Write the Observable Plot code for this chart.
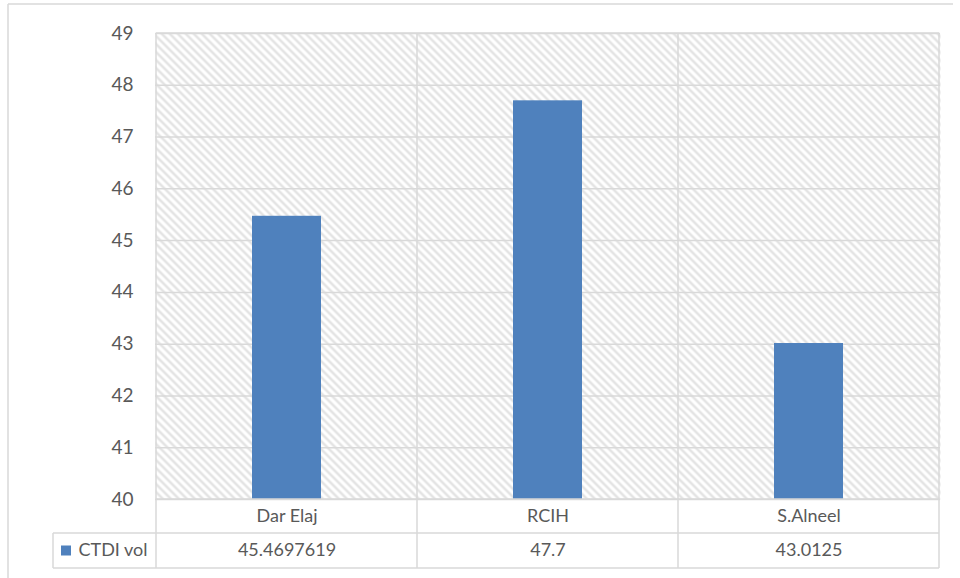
<!DOCTYPE html>
<html>
<head>
<meta charset="utf-8">
<script src="https://cdn.jsdelivr.net/npm/d3@7"></script>
<script src="https://cdn.jsdelivr.net/npm/@observablehq/plot@0.6"></script>
<style>
  body { margin: 0; background: #fff; }
  #chart svg { display: block; }
</style>
</head>
<body>
<div id="chart"></div>
<script>
// CTDI vol per hospital
const categories = ["Dar Elaj", "RCIH", "S.Alneel"];
const ctdiVol = [45.4697619, 47.7, 43.0125];
const valueLabels = ["45.4697619", "47.7", "43.0125"];
const seriesName = "CTDI vol";
const yTicks = [40, 41, 42, 43, 44, 45, 46, 47, 48, 49];

const rows = categories.map((c, i) => ({ category: c, value: ctdiVol[i], label: valueLabels[i] }));

const textColor = "#595959";
const lineColor = "#d9d9d9";
const barColor = "#4f81bd";
const font = "Lato, 'Open Sans', sans-serif";

const plot = Plot.plot({
  width: 960,
  height: 578,
  marginLeft: 155,
  marginRight: 20,
  marginTop: 33,
  marginBottom: 79,
  style: { fontFamily: font, background: "white", overflow: "visible" },
  x: { domain: categories, padding: 0, axis: null },
  y: { domain: [40, 49], axis: null },
  marks: [
    Plot.frame({ fill: "url(#hatch)", stroke: "none" }),
    Plot.gridY(yTicks, { stroke: lineColor, strokeOpacity: 1, strokeWidth: 1.5 }),
    Plot.barY(rows, { x: "category", y1: 40, y2: "value", fill: barColor, insetLeft: 96, insetRight: 96 }),
    Plot.axisY(yTicks, { tickSize: 0, tickPadding: 22, fontSize: 19, color: textColor, tickFormat: "d", label: null }),
    // data table: category row and value row
    Plot.text(rows, { x: "category", text: "category", frameAnchor: "bottom", lineAnchor: "middle", dy: 17, fontSize: 18, fill: textColor }),
    Plot.text(rows, { x: "category", text: "label", frameAnchor: "bottom", lineAnchor: "middle", dy: 51, fontSize: 18, fill: textColor }),
    Plot.text([seriesName], { text: d => d, frameAnchor: "bottom-left", lineAnchor: "middle", dx: -77, dy: 51, textAnchor: "start", fontSize: 18, fill: textColor })
  ]
});

const svg = d3.select(plot);

// diagonal hatch fill for the plot area
const defs = svg.insert("defs", ":first-child");
const pat = defs.append("pattern")
  .attr("id", "hatch")
  .attr("patternUnits", "userSpaceOnUse")
  .attr("width", 8)
  .attr("height", 8);
pat.append("rect").attr("width", 8).attr("height", 8).attr("fill", "white");
pat.append("path")
  .attr("d", "M-2,-2L10,10M-2,6L2,10M6,-2L10,2")
  .attr("stroke", "#e3e3e3")
  .attr("stroke-width", 2.5);

// table grid built from the x scale's bands
const xs = plot.scale("x");
const ys = plot.scale("y");
const bw = xs.bandwidth;
const edges = categories.map(c => xs.apply(c));
edges.push(edges[edges.length - 1] + bw);
const plotTop = ys.apply(49);
const plotBottom = ys.apply(40);
const row1 = plotBottom + 34;
const row2 = plotBottom + 69;
const legendLeft = 53;

const g = svg.append("g").attr("stroke", lineColor).attr("stroke-width", 1.5).attr("fill", "none");
edges.forEach(x => g.append("line").attr("x1", x).attr("x2", x).attr("y1", plotTop).attr("y2", row2));
g.append("line").attr("x1", edges[0]).attr("x2", edges[3]).attr("y1", plotTop).attr("y2", plotTop);
g.append("line").attr("x1", edges[0]).attr("x2", edges[3]).attr("y1", plotBottom).attr("y2", plotBottom);
g.append("line").attr("x1", legendLeft).attr("x2", edges[3]).attr("y1", row1).attr("y2", row1);
g.append("line").attr("x1", legendLeft).attr("x2", edges[3]).attr("y1", row2).attr("y2", row2);
g.append("line").attr("x1", legendLeft).attr("x2", legendLeft).attr("y1", row1).attr("y2", row2);

// legend key in the table's first column
svg.append("rect")
  .attr("x", 61).attr("y", (row1 + row2) / 2 - 5)
  .attr("width", 10).attr("height", 10)
  .attr("fill", barColor);

// chart area border
const b = svg.append("g").attr("stroke", "#d9d9d9").attr("stroke-width", 1.5);
b.append("line").attr("x1", 8).attr("x2", 953).attr("y1", 4).attr("y2", 4);
b.append("line").attr("x1", 8).attr("x2", 8).attr("y1", 4).attr("y2", 578);

document.getElementById("chart").appendChild(plot);
</script>
</body>
</html>
